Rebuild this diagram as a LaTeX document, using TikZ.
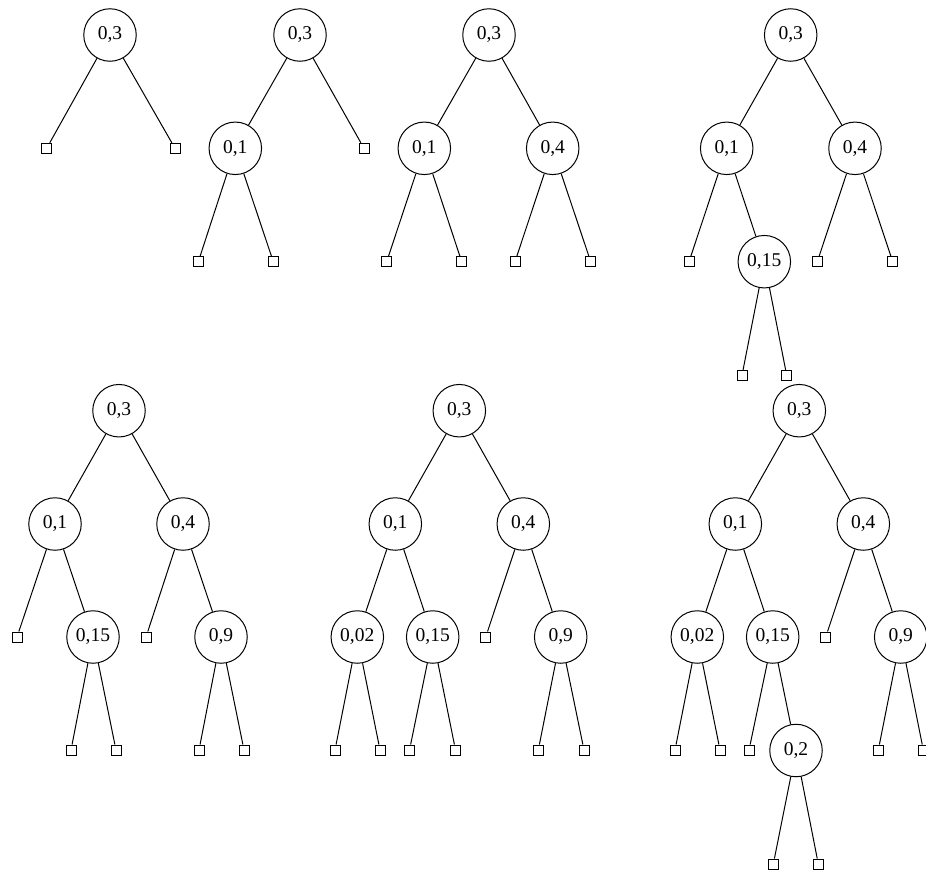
\documentclass[tikz,border=0pt]{standalone}
\usepackage{fontspec}
\setmainfont{Liberation Serif}
\begin{document}
\begin{tikzpicture}[x=1pt,y=-1pt,
  tn/.style={draw,circle,minimum size=52.5pt,inner sep=0pt,line width=1pt,font=\fontsize{19.5}{21}\selectfont},
  lf/.style={draw,rectangle,minimum size=10pt,inner sep=0pt,line width=1pt},
  ed/.style={line width=1pt}]
\useasboundingbox (0,0) rectangle (926,873);
\clip (0,0) rectangle (926,873);
% Tree 1
\node[tn] (a0) at (110,35) {0,3};
\node[lf] (a1) at (46.7,148.3) {};
\node[lf] (a2) at (175,148.3) {};
\draw[ed] (a0) -- (a1); \draw[ed] (a0) -- (a2);
% Tree 2
\node[tn] (b0) at (300,35) {0,3};
\node[tn] (b1) at (235.3,148.3) {0,1};
\node[lf] (b2) at (364,148.3) {};
\node[lf] (b3) at (198.3,261.7) {};
\node[lf] (b4) at (273.3,261.7) {};
\draw[ed] (b0) -- (b1); \draw[ed] (b0) -- (b2);
\draw[ed] (b1) -- (b3); \draw[ed] (b1) -- (b4);
% Tree 3
\node[tn] (c0) at (489,35) {0,3};
\node[tn] (c1) at (424.3,148.3) {0,1};
\node[tn] (c2) at (552.7,148.3) {0,4};
\node[lf] (c3) at (386.7,261.7) {};
\node[lf] (c4) at (461.7,261.7) {};
\node[lf] (c5) at (515,261.7) {};
\node[lf] (c6) at (590.7,261.7) {};
\draw[ed] (c0) -- (c1); \draw[ed] (c0) -- (c2);
\draw[ed] (c1) -- (c3); \draw[ed] (c1) -- (c4);
\draw[ed] (c2) -- (c5); \draw[ed] (c2) -- (c6);
% Tree 4
\node[tn] (d0) at (790.7,35) {0,3};
\node[tn] (d1) at (726.7,148.3) {0,1};
\node[tn] (d2) at (855,148.3) {0,4};
\node[lf] (d3) at (689,261.7) {};
\node[tn] (d4) at (764.3,261.7) {0,15};
\node[lf] (d5) at (817.3,261.7) {};
\node[lf] (d6) at (892.7,261.7) {};
\node[lf] (d7) at (742,375.3) {};
\node[lf] (d8) at (786.7,375.3) {};
\draw[ed] (d0) -- (d1); \draw[ed] (d0) -- (d2);
\draw[ed] (d1) -- (d3); \draw[ed] (d1) -- (d4);
\draw[ed] (d2) -- (d5); \draw[ed] (d2) -- (d6);
\draw[ed] (d4) -- (d7); \draw[ed] (d4) -- (d8);
% Tree 5
\node[tn] (e0) at (119,410.7) {0,3};
\node[tn] (e1) at (55,524) {0,1};
\node[tn] (e2) at (183,524) {0,4};
\node[lf] (e3) at (17,637) {};
\node[tn] (e4) at (93,637) {0,15};
\node[lf] (e5) at (146,637) {};
\node[tn] (e6) at (221,637) {0,9};
\node[lf] (e7) at (71,750) {};
\node[lf] (e8) at (116,750) {};
\node[lf] (e9) at (199,750) {};
\node[lf] (e10) at (244,750) {};
\draw[ed] (e0) -- (e1); \draw[ed] (e0) -- (e2);
\draw[ed] (e1) -- (e3); \draw[ed] (e1) -- (e4);
\draw[ed] (e2) -- (e5); \draw[ed] (e2) -- (e6);
\draw[ed] (e4) -- (e7); \draw[ed] (e4) -- (e8);
\draw[ed] (e6) -- (e9); \draw[ed] (e6) -- (e10);
% Tree 6
\node[tn] (f0) at (459.3,410.7) {0,3};
\node[tn] (f1) at (395.3,524) {0,1};
\node[tn] (f2) at (523.3,524) {0,4};
\node[tn] (f3) at (357.3,637) {0,02};
\node[tn] (f4) at (432.7,637) {0,15};
\node[lf] (f5) at (485.7,637) {};
\node[tn] (f6) at (560.7,637) {0,9};
\node[lf] (f7) at (335,750) {};
\node[lf] (f8) at (380,750) {};
\node[lf] (f9) at (409.5,750) {};
\node[lf] (f10) at (455.5,750) {};
\node[lf] (f11) at (538.3,750) {};
\node[lf] (f12) at (584,750) {};
\draw[ed] (f0) -- (f1); \draw[ed] (f0) -- (f2);
\draw[ed] (f1) -- (f3); \draw[ed] (f1) -- (f4);
\draw[ed] (f2) -- (f5); \draw[ed] (f2) -- (f6);
\draw[ed] (f3) -- (f7); \draw[ed] (f3) -- (f8);
\draw[ed] (f4) -- (f9); \draw[ed] (f4) -- (f10);
\draw[ed] (f6) -- (f11); \draw[ed] (f6) -- (f12);
% Tree 7
\node[tn] (g0) at (799.3,410.7) {0,3};
\node[tn] (g1) at (735.3,524) {0,1};
\node[tn] (g2) at (863.3,524) {0,4};
\node[tn] (g3) at (697.3,637) {0,02};
\node[tn] (g4) at (772.7,637) {0,15};
\node[lf] (g5) at (825.7,637) {};
\node[tn] (g6) at (900.7,637) {0,9};
\node[lf] (g7) at (675,750) {};
\node[lf] (g8) at (720,750) {};
\node[lf] (g9) at (749,750) {};
\node[tn] (g10) at (796,750.5) {0,2};
\node[lf] (g11) at (878.3,750) {};
\node[lf] (g12) at (923.3,750) {};
\node[lf] (g13) at (773.3,864) {};
\node[lf] (g14) at (818.3,864) {};
\draw[ed] (g0) -- (g1); \draw[ed] (g0) -- (g2);
\draw[ed] (g1) -- (g3); \draw[ed] (g1) -- (g4);
\draw[ed] (g2) -- (g5); \draw[ed] (g2) -- (g6);
\draw[ed] (g3) -- (g7); \draw[ed] (g3) -- (g8);
\draw[ed] (g4) -- (g9); \draw[ed] (g4) -- (g10);
\draw[ed] (g6) -- (g11); \draw[ed] (g6) -- (g12);
\draw[ed] (g10) -- (g13); \draw[ed] (g10) -- (g14);
\end{tikzpicture}
\end{document}
